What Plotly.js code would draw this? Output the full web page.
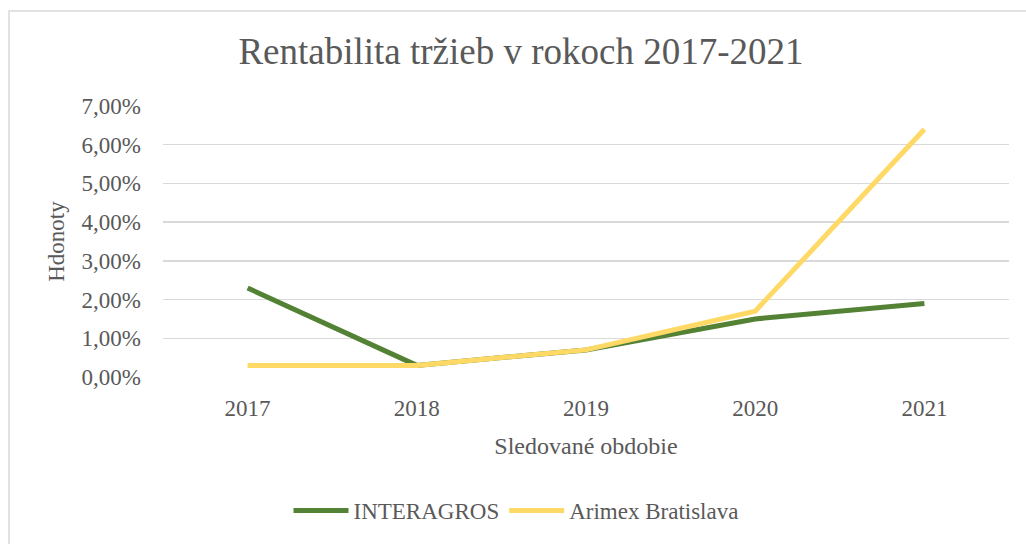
<!DOCTYPE html>
<html>
<head>
<meta charset="utf-8">
<script src="https://cdn.plot.ly/plotly-3.0.1.min.js"></script>
<style>html,body{margin:0;padding:0;background:#fff;}#chart{width:1026px;height:544px;}</style>
</head>
<body>
<div id="chart"></div>
<script>
const years = ["2017", "2018", "2019", "2020", "2021"];
const interagros = [2.3, 0.3, 0.7, 1.5, 1.9];
const arimex = [0.3, 0.3, 0.7, 1.7, 6.4];
const yTicks = [0, 1, 2, 3, 4, 5, 6, 7];
const yTickText = yTicks.map(v => v.toFixed(2).replace(".", ",") + "%");

const SERIF = "Liberation Serif, serif";
const GREY = "#595959";

const traces = [
  {x: years, y: interagros, name: "INTERAGROS", type: "scatter", mode: "lines",
   line: {color: "#548235", width: 5}},
  {x: years, y: arimex, name: "Arimex Bratislava", type: "scatter", mode: "lines",
   line: {color: "#FFD966", width: 5}}
];

const ml = 163, mr = 17, mt = 106, mb = 164;
const pw = 1026 - ml - mr, ph = 544 - mt - mb;
const px = v => (v - ml) / pw;
const py = v => (544 - mb - v) / ph;

const layout = {
  width: 1026, height: 544,
  margin: {l: ml, r: mr, t: mt, b: mb, pad: 0},
  paper_bgcolor: "#fff", plot_bgcolor: "#fff",
  font: {family: SERIF, color: GREY, size: 23},
  title: {text: "Rentabilita tržieb v rokoch 2017-2021", font: {family: SERIF, size: 37, color: GREY},
          x: 521/1026, xanchor: "center", y: 1 - 51/544, yanchor: "middle", xref: "container", yref: "container"},
  xaxis: {type: "category", range: [-0.5, 4.5], showgrid: false, zeroline: false, showline: false, ticks: "",
          tickfont: {family: SERIF, size: 23, color: GREY}, ticklabelstandoff: 15,
          title: {text: "Sledované obdobie", font: {family: SERIF, size: 24, color: GREY}, standoff: 17},
          fixedrange: true},
  yaxis: {range: [0, 7], tickmode: "array", tickvals: yTicks, ticktext: yTickText,
          showgrid: true, gridcolor: "#d9d9d9", gridwidth: 1.5, zeroline: false, showline: false,
          ticks: "", tickfont: {family: SERIF, size: 23, color: GREY}, ticklabelstandoff: 21,
          title: {text: "Hdonoty", font: {family: SERIF, size: 23, color: GREY}, standoff: 10},
          fixedrange: true},
  showlegend: true,
  legend: {orientation: "h", x: px(516), xanchor: "center", y: py(515), yanchor: "middle",
           font: {family: SERIF, size: 23, color: GREY}, itemwidth: 55, traceorder: "normal"},
  shapes: [{type: "rect", xref: "paper", yref: "paper",
            x0: px(9), x1: px(1040), y0: py(560), y1: py(10),
            line: {color: "#d9d9d9", width: 1.5}, layer: "below"}],
  hovermode: false
};

Plotly.newPlot("chart", traces, layout, {displayModeBar: false, staticPlot: true});
</script>
</body>
</html>
